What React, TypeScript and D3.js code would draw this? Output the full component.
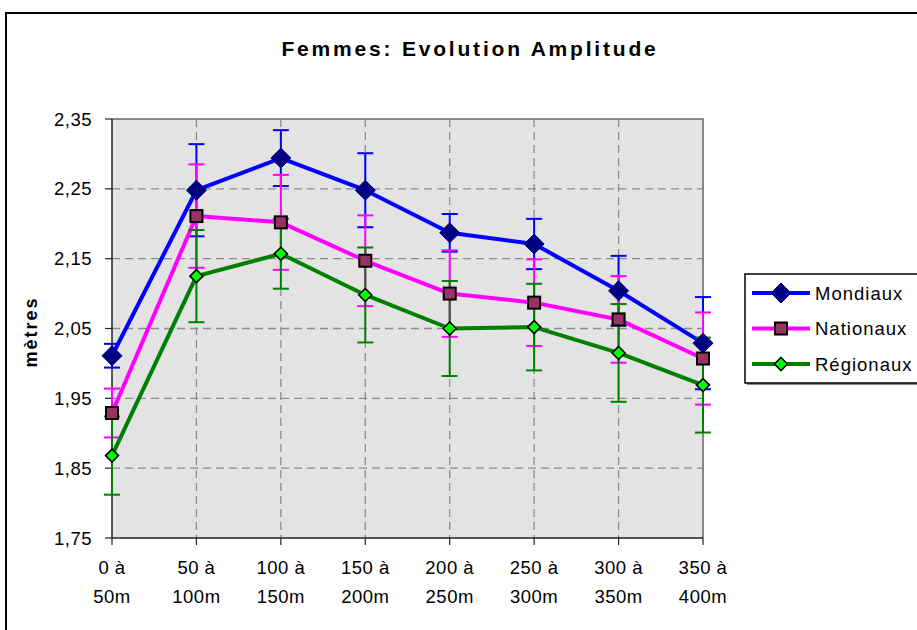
import React from 'react';
import * as d3 from 'd3';

const categories = ['0 à 50m', '50 à 100m', '100 à 150m', '150 à 200m', '200 à 250m', '250 à 300m', '300 à 350m', '350 à 400m'];
const yTicks = [1.75, 1.85, 1.95, 2.05, 2.15, 2.25, 2.35];

const mondiaux = [2.011, 2.248, 2.294, 2.248, 2.187, 2.171, 2.104, 2.029];
const mondiauxErr = [0.017, 0.066, 0.04, 0.053, 0.027, 0.036, 0.05, 0.066];
const nationaux = [1.929, 2.211, 2.202, 2.147, 2.1, 2.087, 2.063, 2.007];
const nationauxErr = [0.035, 0.074, 0.068, 0.065, 0.062, 0.062, 0.062, 0.066];
const regionaux = [1.868, 2.125, 2.157, 2.098, 2.05, 2.052, 2.015, 1.969];
const regionauxErr = [0.056, 0.066, 0.05, 0.068, 0.068, 0.062, 0.07, 0.068];

const series = [
  { name: 'Mondiaux', values: mondiaux, err: mondiauxErr, color: '#0000ff', marker: 'bigDiamond' },
  { name: 'Nationaux', values: nationaux, err: nationauxErr, color: '#ff00ff', marker: 'square' },
  { name: 'Régionaux', values: regionaux, err: regionauxErr, color: '#008000', marker: 'smallDiamond' },
];

const W = 917;
const H = 630;
const plot = { left: 112, right: 703, top: 119, bottom: 538 };
const font = '"Liberation Sans", Arial, sans-serif';

const fr = d3.formatLocale({ decimal: ',', thousands: ' ', grouping: [3], currency: ['', '€'] });
const fmt = fr.format('.2f');

function Marker({ type, x, y }: { type: string; x: number; y: number }) {
  if (type === 'bigDiamond') {
    const r = 10;
    return <path d={`M${x},${y - r}L${x + r},${y}L${x},${y + r}L${x - r},${y}Z`} fill="#000080" stroke="#000080" strokeWidth={1} />;
  }
  if (type === 'square') {
    const s = 6;
    return <rect x={x - s} y={y - s} width={s * 2} height={s * 2} fill="#993366" stroke="#000" strokeWidth={2} />;
  }
  const r = 6.5;
  return <path d={`M${x},${y - r}L${x + r},${y}L${x},${y + r}L${x - r},${y}Z`} fill="#00ff00" stroke="#000" strokeWidth={1.6} />;
}

export default function App() {
  const x = d3.scalePoint<number>().domain(d3.range(categories.length)).range([plot.left, plot.right]).padding(0);
  const y = d3.scaleLinear().domain([1.75, 2.35]).range([plot.bottom, plot.top]);
  const line = d3.line<number>().x((_, i) => x(i) as number).y((d) => y(d));

  return (
    <svg width={W} height={H} style={{ position: 'absolute', left: 0, top: 0, fontFamily: font }}>
      <rect x={0} y={0} width={W} height={H} fill="#fff" />
      <rect x={6} y={13} width={W + 20} height={H + 20} fill="none" stroke="#000" strokeWidth={2} />

      <text x={470} y={56} textAnchor="middle" fontSize={21} fontWeight="bold" letterSpacing={2.8}>
        Femmes: Evolution Amplitude
      </text>

      {/* plot area */}
      <rect x={plot.left} y={plot.top} width={plot.right - plot.left} height={plot.bottom - plot.top} fill="#e3e3e3" />

      {yTicks.slice(1, -1).map((t) => (
        <line key={t} x1={plot.left} x2={plot.right} y1={y(t)} y2={y(t)} stroke="#8c8c8c" strokeWidth={1.3} strokeDasharray="8,5" />
      ))}
      {categories.slice(1, -1).map((_, i) => (
        <line key={i} x1={x(i + 1)} x2={x(i + 1)} y1={plot.top} y2={plot.bottom} stroke="#8c8c8c" strokeWidth={1.3} strokeDasharray="8,5" />
      ))}

      <line x1={plot.left} x2={plot.right + 1} y1={plot.top} y2={plot.top} stroke="#888" strokeWidth={2} />
      <line x1={plot.right} x2={plot.right} y1={plot.top} y2={plot.bottom} stroke="#888" strokeWidth={2} />
      <line x1={plot.left} x2={plot.left} y1={plot.top} y2={plot.bottom} stroke="#222" strokeWidth={1.5} />
      <line x1={plot.left} x2={plot.right} y1={plot.bottom} y2={plot.bottom} stroke="#222" strokeWidth={1.5} />

      {/* y axis */}
      {yTicks.map((t) => (
        <g key={t}>
          <line x1={plot.left - 7} x2={plot.left} y1={y(t)} y2={y(t)} stroke="#222" strokeWidth={1.2} />
          <text x={92} y={y(t) + 6.5} textAnchor="end" fontSize={18.5} letterSpacing={0.5}>
            {fmt(t)}
          </text>
        </g>
      ))}
      <text transform="translate(37,332) rotate(-90)" textAnchor="middle" fontSize={18} fontWeight="bold" letterSpacing={2}>
        mètres
      </text>

      {/* x axis */}
      {categories.map((c, i) => {
        const [a, b] = c.split('à ');
        return (
          <g key={c}>
            <line x1={x(i)} x2={x(i)} y1={plot.bottom} y2={plot.bottom + 7} stroke="#222" strokeWidth={1.2} />
            <text x={x(i)} y={574} textAnchor="middle" fontSize={18.5} letterSpacing={0.5}>
              {a + 'à'}
            </text>
            <text x={x(i)} y={603} textAnchor="middle" fontSize={18.5} letterSpacing={0.5}>
              {b}
            </text>
          </g>
        );
      })}

      {/* error bars, lines */}
      {series.map((s) => (
        <g key={s.name}>
          {s.values.map((v, i) => {
            const cx = x(i) as number;
            const y1 = y(v + s.err[i]);
            const y2 = y(v - s.err[i]);
            return (
              <g key={i} stroke={s.color} strokeWidth={2}>
                <line x1={cx} x2={cx} y1={y1} y2={y2} />
                <line x1={cx - 8} x2={cx + 8} y1={y1} y2={y1} />
                <line x1={cx - 8} x2={cx + 8} y1={y2} y2={y2} />
              </g>
            );
          })}
          <path d={line(s.values) || ''} fill="none" stroke={s.color} strokeWidth={4} strokeLinejoin="round" />
        </g>
      ))}
      {series.map((s) => (
        <g key={s.name + 'm'}>
          {s.values.map((v, i) => (
            <Marker key={i} type={s.marker} x={x(i) as number} y={y(v)} />
          ))}
        </g>
      ))}

      {/* legend */}
      <rect x={747} y={276} width={200} height={109} fill="#888" />
      <rect x={745} y={274} width={200} height={109} fill="#fff" stroke="#000" strokeWidth={1.5} />
      {series.map((s, i) => {
        const ly = 293 + i * 35.5;
        return (
          <g key={s.name + 'l'}>
            <line x1={752} x2={810} y1={ly} y2={ly} stroke={s.color} strokeWidth={4} />
            <Marker type={s.marker} x={781} y={ly} />
            <text x={815} y={ly + 6.5} fontSize={18.5} letterSpacing={1}>
              {s.name}
            </text>
          </g>
        );
      })}
    </svg>
  );
}
